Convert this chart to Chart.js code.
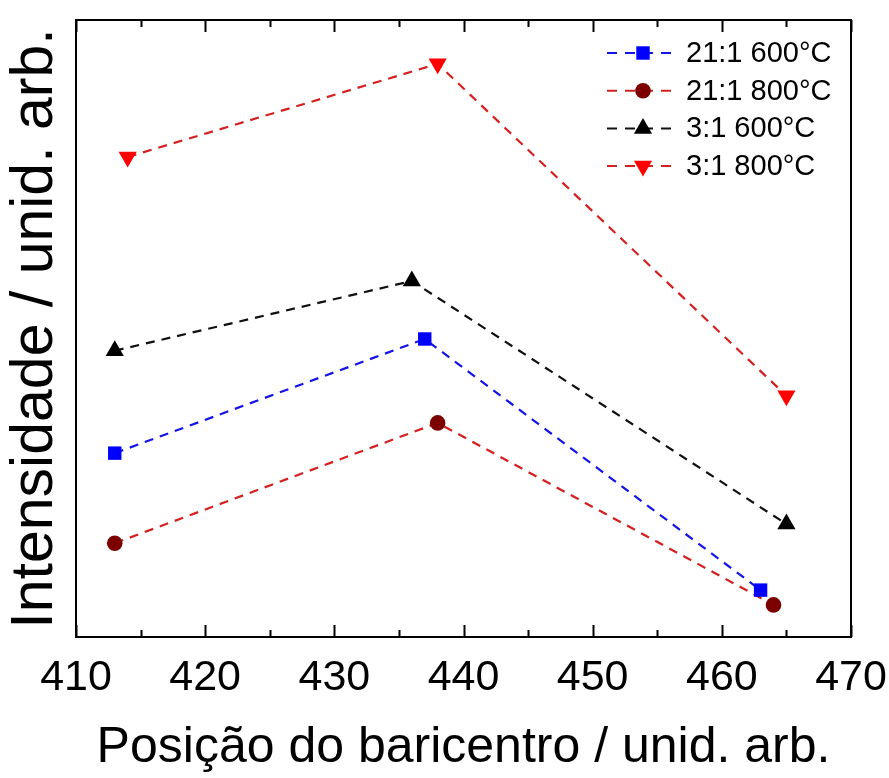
<!DOCTYPE html>
<html>
<head>
<meta charset="utf-8">
<script src="https://cdn.jsdelivr.net/npm/chart.js@4.4.0/dist/chart.umd.min.js"></script>
<style>
  html, body { margin: 0; padding: 0; background: #fff; }
  #wrap { width: 889px; height: 778px; }
</style>
</head>
<body>
<div id="wrap"><canvas id="baricentroChart" width="889" height="778"></canvas></div>
<script>
// data (y in arbitrary units, 0-100 over the plot height)
const seriesNames = ['21:1 600°C', '21:1 800°C', '3:1 600°C', '3:1 800°C'];
const x_21_600 = [413, 437, 463];
const y_21_600 = [29.8, 48.3, 7.6];
const x_21_800 = [413, 438, 464];
const y_21_800 = [15.2, 34.7, 5.2];
const x_3_600 = [413, 436, 465];
const y_3_600 = [46.4, 57.7, 18.3];
const x_3_800 = [414, 438, 465];
const y_3_800 = [77.8, 92.9, 39.1];
const xTickLabels = [410, 420, 430, 440, 450, 460, 470];

const FONT = "'Liberation Sans', Arial, sans-serif";

const pts = (xs, ys) => xs.map((x, i) => ({ x: x, y: ys[i] }));

const mk = (label, data, lineColor, pointColor, style, radius, rot) => ({
    label: label,
    data: data,
    borderColor: lineColor,
    borderWidth: 2.2,
    borderDash: [9, 7],
    backgroundColor: pointColor,
    pointBackgroundColor: pointColor,
    pointBorderColor: pointColor,
    pointBorderWidth: 0,
    pointStyle: style,
    pointRadius: radius,
    pointRotation: rot || 0,
    tension: 0,
    fill: false
});

const datasets = [
    mk(seriesNames[0], pts(x_21_600, y_21_600), '#1414e6', '#0000ff', 'rect', 9.5),
    mk(seriesNames[1], pts(x_21_800, y_21_800), '#d42020', '#7d0000', 'circle', 7.8),
    mk(seriesNames[2], pts(x_3_600, y_3_600), '#111111', '#000000', 'triangle', 10.5),
    mk(seriesNames[3], pts(x_3_800, y_3_800), '#d42020', '#ff0000', 'triangle', 10.5, 180)
];

// box, inward ticks on top/bottom, and the legend inside the plot
const framePlugin = {
    id: 'frame',
    afterDraw(chart) {
        const ctx = chart.ctx;
        const a = chart.chartArea;
        const xs = chart.scales.x;
        ctx.save();
        ctx.strokeStyle = '#000';
        ctx.lineWidth = 2;
        ctx.strokeRect(a.left, a.top, a.right - a.left, a.bottom - a.top);
        for (let v = xs.min; v <= xs.max; v += 5) {
            const px = Math.round(xs.getPixelForValue(v)) + 0.5;
            const len = (v % 10 === 0) ? 12 : 7;
            ctx.beginPath();
            ctx.moveTo(px, a.bottom); ctx.lineTo(px, a.bottom - len);
            ctx.moveTo(px, a.top); ctx.lineTo(px, a.top + len);
            ctx.stroke();
        }
        // legend
        const lx0 = 607, lx1 = 678, mx = 643, ty0 = 53, dy = 37.7;
        chart.data.datasets.forEach((ds, i) => {
            const y = ty0 + i * dy;
            ctx.strokeStyle = ds.borderColor;
            ctx.lineWidth = 2;
            ctx.setLineDash([10, 8]);
            ctx.beginPath();
            ctx.moveTo(lx0, y); ctx.lineTo(lx1, y);
            ctx.stroke();
            ctx.setLineDash([]);
            ctx.fillStyle = ds.pointBackgroundColor;
            Chart.helpers.drawPoint(ctx, {
                pointStyle: ds.pointStyle, radius: ds.pointRadius,
                rotation: ds.pointRotation, borderWidth: 0
            }, mx, y);
            ctx.fillStyle = '#000';
            ctx.font = '29px ' + FONT;
            ctx.textBaseline = 'middle';
            ctx.textAlign = 'left';
            ctx.fillText(ds.label, 686, y + 1);
        });
        ctx.restore();
    }
};

new Chart(document.getElementById('baricentroChart'), {
    type: 'line',
    data: { datasets: datasets },
    options: {
        responsive: false,
        animation: false,
        layout: { padding: { top: 20, right: 38, left: 0, bottom: 0 } },
        plugins: { legend: { display: false }, tooltip: { enabled: false } },
        scales: {
            x: {
                type: 'linear',
                min: 410, max: 470,
                afterFit: s => { s.height = 141; s.paddingRight = 0; s.paddingLeft = 0; },
                afterBuildTicks: s => { s.ticks = xTickLabels.map(v => ({ value: v })); },
                grid: { display: false },
                border: { display: false },
                ticks: {
                    color: '#000',
                    padding: 7,
                    font: { family: FONT, size: 43 },
                    maxRotation: 0,
                    autoSkip: false
                },
                title: {
                    display: true,
                    text: 'Posição do baricentro / unid. arb.',
                    color: '#000',
                    font: { family: FONT, size: 50 },
                    padding: { top: 18, bottom: 0 }
                }
            },
            y: {
                min: 0, max: 100,
                afterFit: s => { s.width = 76; },
                grid: { display: false },
                border: { display: false },
                ticks: { display: false },
                title: {
                    display: true,
                    text: 'Intensidade / unid. arb.',
                    color: '#000',
                    font: { family: FONT, size: 59 },
                    padding: { top: 0, bottom: 0 }
                }
            }
        }
    },
    plugins: [framePlugin]
});
</script>
</body>
</html>
